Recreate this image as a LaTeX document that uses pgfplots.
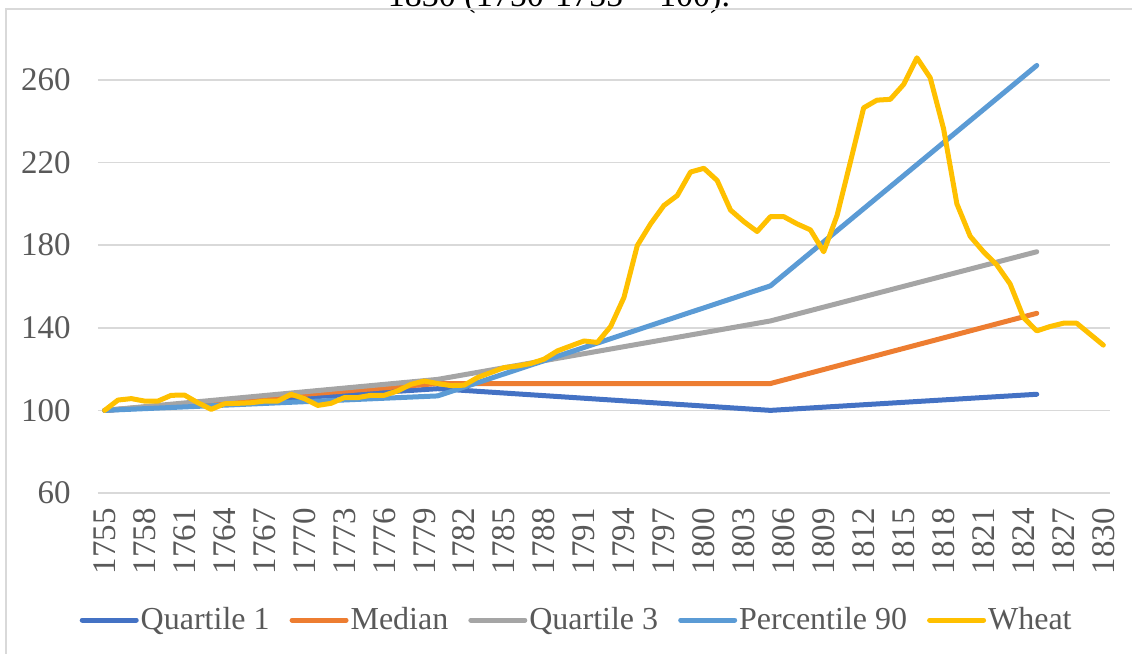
\documentclass[border=0pt]{standalone}
\usepackage{fontspec}
\setmainfont{Liberation Serif}
\usepackage{pgfplots}
\pgfplotsset{compat=1.18}
\usepackage{pgfplotstable}
\definecolor{cQone}{HTML}{4472C4}
\definecolor{cMed}{HTML}{ED7D31}
\definecolor{cQthree}{HTML}{A5A5A5}
\definecolor{cPninety}{HTML}{5B9BD5}
\definecolor{cWheat}{HTML}{FFC000}
\definecolor{cGrid}{HTML}{D9D9D9}
\definecolor{cText}{HTML}{595959}
\definecolor{cBorder}{HTML}{D9D9D9}

\pgfplotstableread{
year val
1755 100
1780 110.5
1805 100
1825 107.8
}\qone
\pgfplotstableread{
year val
1755 100
1780 113
1805 113
1825 147
}\median
\pgfplotstableread{
year val
1755 100
1780 115
1805 143.3
1825 176.8
}\qthree
\pgfplotstableread{
year val
1755 100
1780 107
1805 160.3
1825 267
}\pninety
\pgfplotstableread{
year val
1755 100
1756 105
1757 105.7
1758 104.5
1759 104.5
1760 107.3
1761 107.4
1762 103.7
1763 100.5
1764 103.2
1765 103.4
1766 103.7
1767 104.5
1768 104.5
1769 107.8
1770 105.7
1771 102.4
1772 103.4
1773 106.2
1774 106.2
1775 107.3
1776 107.3
1777 109.4
1778 112.6
1779 114.2
1780 113
1781 112
1782 112.2
1783 115.9
1784 118.3
1785 120.7
1786 121.5
1787 122.7
1788 124.8
1789 128.8
1790 131.2
1791 133.6
1792 132.9
1793 140.6
1794 154.7
1795 179.8
1796 190.3
1797 199.2
1798 204
1799 215.4
1800 217.2
1801 211.3
1802 197
1803 191.4
1804 186.6
1805 193.8
1806 193.8
1807 190.3
1808 187.4
1809 176.8
1810 194.3
1811 220.2
1812 246.5
1813 250.2
1814 250.6
1815 257.8
1816 270.7
1817 261
1818 236.4
1819 200
1820 184.3
1821 176.8
1822 170.4
1823 161.2
1824 145
1825 138.5
1826 140.6
1827 142.2
1828 142.2
1829 136.9
1830 131.6
}\wheat

\begin{document}
\begin{tikzpicture}
\path[use as bounding box] (0,0) rectangle (566pt,327pt);
\clip (0,0) rectangle (566pt,327pt);
\node[anchor=base, inner sep=0pt, font=\fontsize{17}{20}\selectfont] at (279.5pt,323.5pt) {1830 (1750-1755 = 100).};
\draw[cBorder, line width=0.8pt] (2.85pt,-10pt) -- (2.85pt,322.6pt) -- (580pt,322.6pt);
\begin{axis}[
  at={(49pt,80.5pt)}, anchor=south west,
  scale only axis,
  width=506pt, height=227.2pt,
  xmin=1754.5, xmax=1830.5,
  ymin=60, ymax=280,
  xtick={1755,1758,...,1830},
  ytick={60,100,...,260},
  ymajorgrids,
  grid style={cGrid, line width=0.8pt},
  axis line style={draw=none},
  major tick length=0pt,
  tick style={draw=none},
  /pgf/number format/1000 sep={},
  /pgf/number format/assume math mode=true,
  every tick label/.append style={font=\fontsize{16.5}{19}\selectfont, text=cText},
  yticklabel style={anchor=east, inner sep=0pt, xshift=-13.5pt},
  xticklabel style={rotate=90, anchor=east, inner sep=0pt, xshift=-7.5pt},
  legend columns=5,
  legend style={draw=none, fill=none, at={(0.473,-0.2796)}, anchor=center,
    font=\fontsize{16}{19}\selectfont, text=cText,
    nodes={inner sep=1pt},
    /tikz/every even column/.append style={column sep=9pt}},
  legend image code/.code={\draw[#1, line width=2.5pt, line cap=round] (0pt,0pt) -- (27pt,0pt);},
  every axis plot/.append style={line width=2.5pt, line join=round, line cap=round, mark=none},
  clip=false,
]
\addplot[cQone] table[x=year,y=val] {\qone};
\addlegendentry{Quartile 1}
\addplot[cMed] table[x=year,y=val] {\median};
\addlegendentry{Median}
\addplot[cQthree] table[x=year,y=val] {\qthree};
\addlegendentry{Quartile 3}
\addplot[cPninety] table[x=year,y=val] {\pninety};
\addlegendentry{Percentile 90}
\addplot[cWheat] table[x=year,y=val] {\wheat};
\addlegendentry{Wheat}
\end{axis}
\end{tikzpicture}
\end{document}
